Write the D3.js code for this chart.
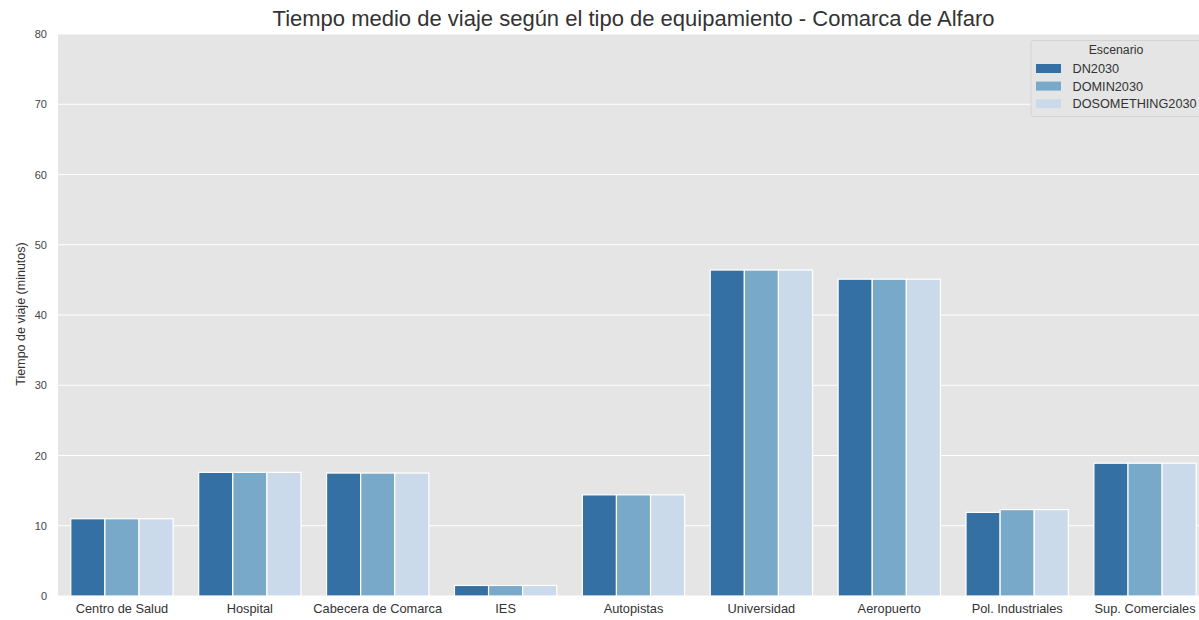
<!DOCTYPE html>
<html>
<head>
<meta charset="utf-8">
<script src="https://cdn.jsdelivr.net/npm/d3@7"></script>
<style>
	body { margin: 0; background: #fff; overflow: hidden; }
	svg { display: block; font-family: "Liberation Sans", Arial, sans-serif; }
</style>
</head>
<body>
<svg id="chart" width="1199" height="620"></svg>
<script>
// data
const categories = ['Centro de Salud', 'Hospital', 'Cabecera de Comarca', 'IES', 'Autopistas',
	'Universidad', 'Aeropuerto', 'Pol. Industriales', 'Sup. Comerciales'];
const scenarios = ['DN2030', 'DOMIN2030', 'DOSOMETHING2030'];
const dn2030 = [11.0, 17.6, 17.5, 1.5, 14.4, 46.4, 45.1, 11.9, 18.9];
const domin2030 = [11.0, 17.6, 17.5, 1.5, 14.4, 46.4, 45.1, 12.3, 18.9];
const dosomething2030 = [11.0, 17.6, 17.5, 1.5, 14.4, 46.4, 45.1, 12.3, 18.9];
const yTicks = [0, 10, 20, 30, 40, 50, 60, 70, 80];
const colors = ['#3470a3', '#79a9c9', '#cadaea'];

const seriesValues = [dn2030, domin2030, dosomething2030];

let svg = d3.select('#chart'),
	margin = { top: 34, left: 58 },
	width = 1151,
	height = 562;

// seaborn-like band: full step with 0.8 of it used by the group
let x = d3.scaleBand().domain(categories).range([0, width]).padding(0),
	x1 = d3.scaleBand().domain(scenarios).range([x.bandwidth() * 0.1, x.bandwidth() * 0.9]),
	y = d3.scaleLinear().domain([0, 80]).range([height, 0]);

let g = svg.append('g')
	.attr('transform', 'translate(' + margin.left + ',' + margin.top + ')');

g.append('rect')
	.attr('width', width)
	.attr('height', height)
	.attr('fill', '#e5e5e5');

// grid
g.append('g')
	.selectAll('line')
	.data(yTicks)
	.enter().append('line')
	.attr('x1', 0)
	.attr('x2', width)
	.attr('y1', d => y(d))
	.attr('y2', d => y(d))
	.attr('stroke', '#fff')
	.attr('stroke-width', 1);

// bars
let rows = [];
categories.forEach((c, i) => {
	scenarios.forEach((s, j) => {
		rows.push({ cat: c, sc: s, v: seriesValues[j][i], color: colors[j] });
	});
});

g.selectAll('.bar')
	.data(rows)
	.enter().append('rect')
	.attr('class', 'bar')
	.attr('x', d => x(d.cat) + x1(d.sc))
	.attr('y', d => y(d.v))
	.attr('width', x1.bandwidth())
	.attr('height', d => height - y(d.v))
	.attr('fill', d => d.color)
	.attr('stroke', '#fff')
	.attr('stroke-width', 1.2);

// axes
let yAxis = g.append('g')
	.call(d3.axisLeft(y).tickValues(yTicks).tickSize(0).tickPadding(11));
yAxis.select('.domain').remove();
yAxis.selectAll('text')
	.attr('fill', '#444')
	.attr('font-size', '11px')
	.attr('font-family', '"Liberation Sans", Arial, sans-serif');

let xAxis = g.append('g')
	.attr('transform', 'translate(0,' + height + ')')
	.call(d3.axisBottom(x).tickSize(0).tickPadding(8));
xAxis.select('.domain').remove();
xAxis.selectAll('text')
	.attr('fill', '#333')
	.attr('font-size', '12.8px')
	.attr('font-family', '"Liberation Sans", Arial, sans-serif');

// labels
svg.append('text')
	.attr('transform', 'translate(25,' + (margin.top + height / 2 - 1) + ') rotate(-90)')
	.attr('text-anchor', 'middle')
	.attr('font-size', '12.5px')
	.attr('fill', '#333')
	.text('Tiempo de viaje (minutos)');

svg.append('text')
	.attr('x', margin.left + width / 2)
	.attr('y', 26)
	.attr('text-anchor', 'middle')
	.attr('font-size', '22px')
	.attr('fill', '#333')
	.text('Tiempo medio de viaje según el tipo de equipamiento - Comarca de Alfaro');

// legend
let lg = svg.append('g').attr('transform', 'translate(1031,40.5)');
lg.append('rect')
	.attr('width', 175)
	.attr('height', 76)
	.attr('rx', 3)
	.attr('fill', '#e5e5e5')
	.attr('stroke', '#d4d4d4');
lg.append('text')
	.attr('x', 85)
	.attr('y', 13)
	.attr('text-anchor', 'middle')
	.attr('font-size', '12.3px')
	.attr('fill', '#333')
	.text('Escenario');
let items = lg.selectAll('.item')
	.data(scenarios)
	.enter().append('g')
	.attr('class', 'item')
	.attr('transform', (d, i) => 'translate(5,' + (23.5 + i * 17.6) + ')');
items.append('rect')
	.attr('width', 25)
	.attr('height', 9)
	.attr('fill', (d, i) => colors[i]);
items.append('text')
	.attr('x', 36.5)
	.attr('y', 9)
	.attr('font-size', '12.7px')
	.attr('fill', '#333')
	.text(d => d);
</script>
</body>
</html>
